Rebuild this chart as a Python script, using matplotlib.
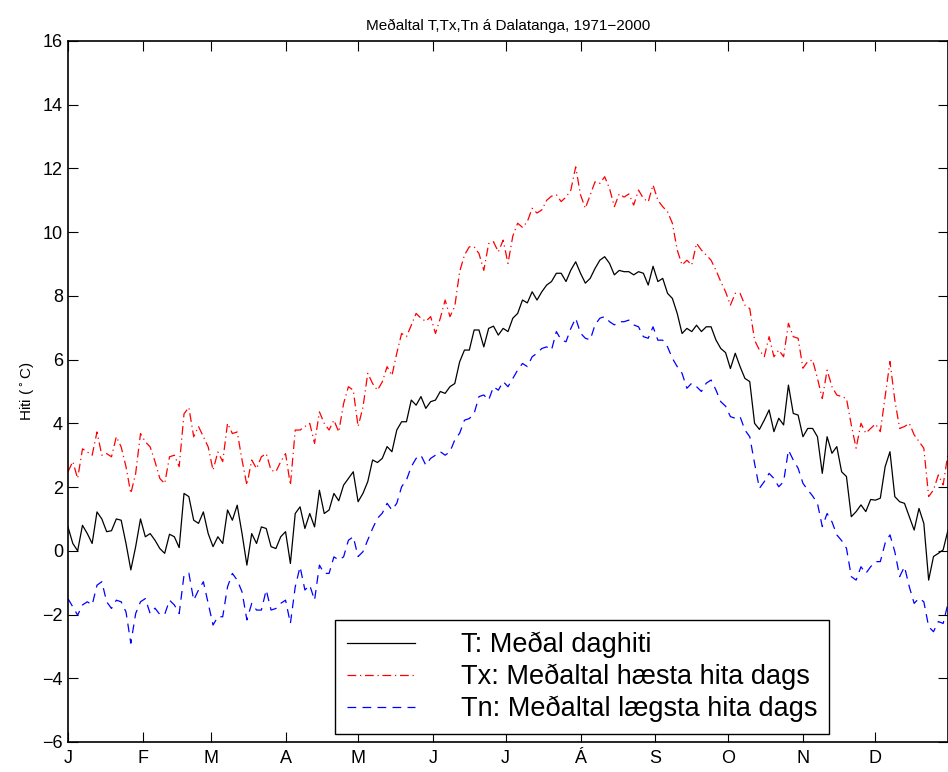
import numpy as np
import matplotlib
matplotlib.use("Agg")
import matplotlib.pyplot as plt

plt.rcParams['font.family'] = ['Liberation Sans', 'DejaVu Sans']

# annual day numbers (every second day)
days = np.arange(1, 366, 2)

# T: daily mean
t_mean = [
    0.75, 0.23, 0.0, 0.8, 0.54, 0.23, 1.22, 1.0, 0.6, 0.63,
    1.0, 0.96, 0.23, -0.6, 0.13, 1.0, 0.44, 0.54, 0.33, 0.07,
    -0.08, 0.52, 0.44, 0.1, 1.8, 1.7, 0.96, 0.86, 1.22, 0.54,
    0.13, 0.44, 0.23, 1.28, 0.96, 1.43, 0.54, -0.45, 0.54, 0.23,
    0.75, 0.7, 0.13, 0.07, 0.44, 0.6, -0.4, 1.17, 1.38, 0.7,
    1.17, 0.75, 1.9, 1.17, 1.28, 1.8, 1.57, 2.06, 2.27, 2.48,
    1.54, 1.8, 2.17, 2.85, 2.77, 2.9, 3.27, 3.11, 3.79, 4.05,
    4.05, 4.73, 4.57, 4.84, 4.47, 4.68, 4.73, 5.0, 4.94, 5.15,
    5.25, 5.93, 6.3, 6.3, 6.93, 6.93, 6.4, 6.98, 7.05, 6.77,
    6.98, 6.88, 7.3, 7.45, 7.87, 7.78, 8.13, 7.87, 8.13, 8.34,
    8.45, 8.71, 8.71, 8.45, 8.81, 9.07, 8.71, 8.4, 8.55, 8.86,
    9.12, 9.23, 9.02, 8.66, 8.8, 8.76, 8.76, 8.66, 8.76, 8.71,
    8.34, 8.93, 8.45, 8.55, 8.08, 7.92, 7.45, 6.82, 6.98, 6.88,
    7.08, 6.88, 7.03, 7.03, 6.62, 6.35, 6.22, 5.72, 6.2, 5.78,
    5.41, 5.31, 4.0, 3.81, 4.1, 4.42, 3.74, 4.16, 3.95, 5.2,
    4.31, 4.26, 3.58, 3.84, 3.84, 3.58, 2.43, 3.58, 3.06, 3.27,
    2.48, 2.33, 1.07, 1.23, 1.44, 1.23, 1.61, 1.59, 1.65, 2.64,
    3.11, 1.7, 1.54, 1.49, 1.07, 0.65, 1.33, 0.86, -0.92, -0.18,
    -0.08, 0.03, 0.65,
]

# Tx: mean daily maximum
t_max = [
    2.48, 2.8, 2.27, 3.2, 3.1, 3.0, 3.73, 3.0, 3.05, 2.95,
    3.58, 3.26, 2.64, 1.8, 2.43, 3.68, 3.42, 3.26, 2.8, 2.27,
    2.11, 2.95, 3.0, 2.64, 4.3, 4.5, 3.58, 3.9, 3.58, 3.26,
    2.53, 3.1, 2.8, 4.0, 3.68, 3.73, 2.85, 2.06, 2.85, 2.58,
    2.95, 3.05, 2.53, 2.48, 2.8, 3.05, 2.06, 3.79, 3.79, 3.9,
    4.0, 3.37, 4.36, 4.0, 3.79, 4.1, 3.73, 4.62, 5.15, 5.04,
    3.9, 4.5, 5.57, 5.25, 5.04, 5.3, 5.78, 5.5, 6.2, 6.82,
    6.72, 7.08, 7.45, 7.3, 7.2, 7.35, 6.82, 7.3, 7.87, 7.35,
    7.67, 8.76, 9.28, 9.54, 9.54, 9.33, 8.8, 9.64, 9.7, 9.38,
    9.75, 9.02, 9.88, 10.28, 10.15, 10.33, 10.75, 10.6, 10.7, 11.0,
    11.13, 11.17, 10.96, 11.1, 11.32, 12.05, 11.17, 10.75, 11.17, 11.58,
    11.53, 11.74, 11.37, 10.8, 11.2, 11.1, 11.2, 10.85, 11.32, 11.06,
    10.95, 11.48, 11.0, 10.8, 10.64, 10.28, 9.44, 8.97, 9.12, 8.97,
    9.65, 9.44, 9.28, 9.12, 8.81, 8.45, 8.13, 7.71, 8.08, 8.08,
    7.71, 7.6, 6.61, 6.3, 6.09, 6.72, 6.09, 6.3, 6.09, 7.14,
    6.72, 6.67, 5.73, 5.94, 5.99, 5.41, 4.78, 5.67, 5.15, 4.89,
    4.84, 4.78, 3.95, 3.22, 4.0, 3.69, 3.84, 3.98, 3.74, 4.84,
    5.94, 4.73, 3.84, 3.9, 4.0, 3.64, 3.43, 3.22, 1.7, 1.91,
    2.38, 2.07, 3.06,
]

# Tn: mean daily minimum
t_min = [
    -1.5, -1.76, -2.02, -1.7, -1.6, -1.7, -1.08, -0.97, -1.6, -1.81,
    -1.55, -1.6, -1.92, -2.9, -1.97, -1.6, -1.5, -1.97, -1.8, -2.0,
    -2.0, -1.55, -1.7, -1.97, -0.76, -0.7, -1.55, -1.23, -0.97, -1.65,
    -2.33, -2.07, -2.07, -1.13, -0.71, -0.92, -1.29, -2.17, -1.65, -1.86,
    -1.86, -1.23, -1.86, -1.81, -1.65, -1.55, -2.28, -1.13, -0.5, -1.23,
    -1.08, -1.55, -0.45, -0.71, -0.71, -0.19, -0.29, -0.19, 0.33, 0.44,
    -0.18, -0.03, 0.34, 0.7, 1.02, 1.18, 1.49, 1.28, 1.49, 2.01,
    2.22, 2.64, 2.9, 3.0, 2.69, 2.9, 3.0, 3.11, 3.0, 3.11,
    3.48, 3.69, 4.1, 4.15, 4.31, 4.84, 4.89, 4.73, 5.15, 5.04,
    5.31, 5.15, 5.41, 5.67, 5.88, 5.78, 6.09, 6.2, 6.35, 6.4,
    6.3, 6.88, 6.62, 6.56, 6.98, 7.3, 6.83, 6.67, 6.62, 7.09,
    7.3, 7.35, 7.19, 7.09, 7.19, 7.19, 7.24, 7.09, 7.03, 6.72,
    6.67, 7.03, 6.61, 6.61, 6.4, 6.04, 5.78, 5.57, 5.1, 5.26,
    5.15, 5.0, 5.26, 5.36, 5.05, 4.68, 4.54, 4.21, 4.16, 4.21,
    3.79, 3.58, 2.74, 1.96, 2.17, 2.43, 2.27, 2.01, 2.17, 3.16,
    2.85, 2.59, 2.12, 1.91, 1.72, 1.49, 0.76, 1.17, 0.91, 0.5,
    0.32, 0.08, -0.81, -0.92, -0.5, -0.71, -0.5, -0.34, -0.34, 0.24,
    0.5, -0.03, -0.81, -0.5, -1.13, -1.65, -1.49, -1.6, -2.38, -2.54,
    -2.22, -2.28, -1.65,
]

month_start = [1, 32, 60, 91, 121, 152, 182, 213, 244, 274, 305, 335]
month_labels = ['J', 'F', 'M', 'A', 'M', 'J', 'J', 'Á', 'S', 'O', 'N', 'D']

fig = plt.figure(figsize=(9.48, 7.72), dpi=100)
ax = fig.add_axes([0.0717, 0.0389, 0.9283, 0.908])

ax.plot(days, t_mean, color='black', lw=0.9, label='T: Meðal daghiti')
ax.plot(days, t_max, color='#ff0000', lw=0.9, linestyle=(0, (7, 3, 1, 3)),
        label='Tx: Meðaltal hæsta hita dags')
ax.plot(days, t_min, color='#0000ff', lw=0.9, linestyle=(0, (7, 5)),
        label='Tn: Meðaltal lægsta hita dags')

ax.set_xlim(1, 365)
ax.set_ylim(-6, 16)
ax.set_yticks(np.arange(-6, 17, 2))
ax.set_yticklabels([str(v).replace('-', '\u2212') for v in range(-6, 17, 2)])
ax.set_xticks(month_start)
ax.set_xticklabels(month_labels)
ax.tick_params(direction='in', top=True, right=True, labelsize=13, length=7, width=0.8)
ax.tick_params(axis='x', pad=6)
for s in ax.spines.values():
    s.set_linewidth(1.2)

ax.set_ylabel('Hiti ($^\\circ$C)', fontsize=11, labelpad=4)
ax.set_title('Meðaltal T,Tx,Tn á Dalatanga, 1971\u22122000', fontsize=11, pad=8)

leg = ax.legend(loc='lower left', bbox_to_anchor=(0.303, 0.011), fontsize=19.5,
                frameon=True, fancybox=False, edgecolor='black', framealpha=1,
                handlelength=2.5, handletextpad=1.7, borderpad=0.45, labelspacing=0.2,
                borderaxespad=0)
leg.get_frame().set_linewidth(1.0)

fig.savefig('out.png', dpi=100)
